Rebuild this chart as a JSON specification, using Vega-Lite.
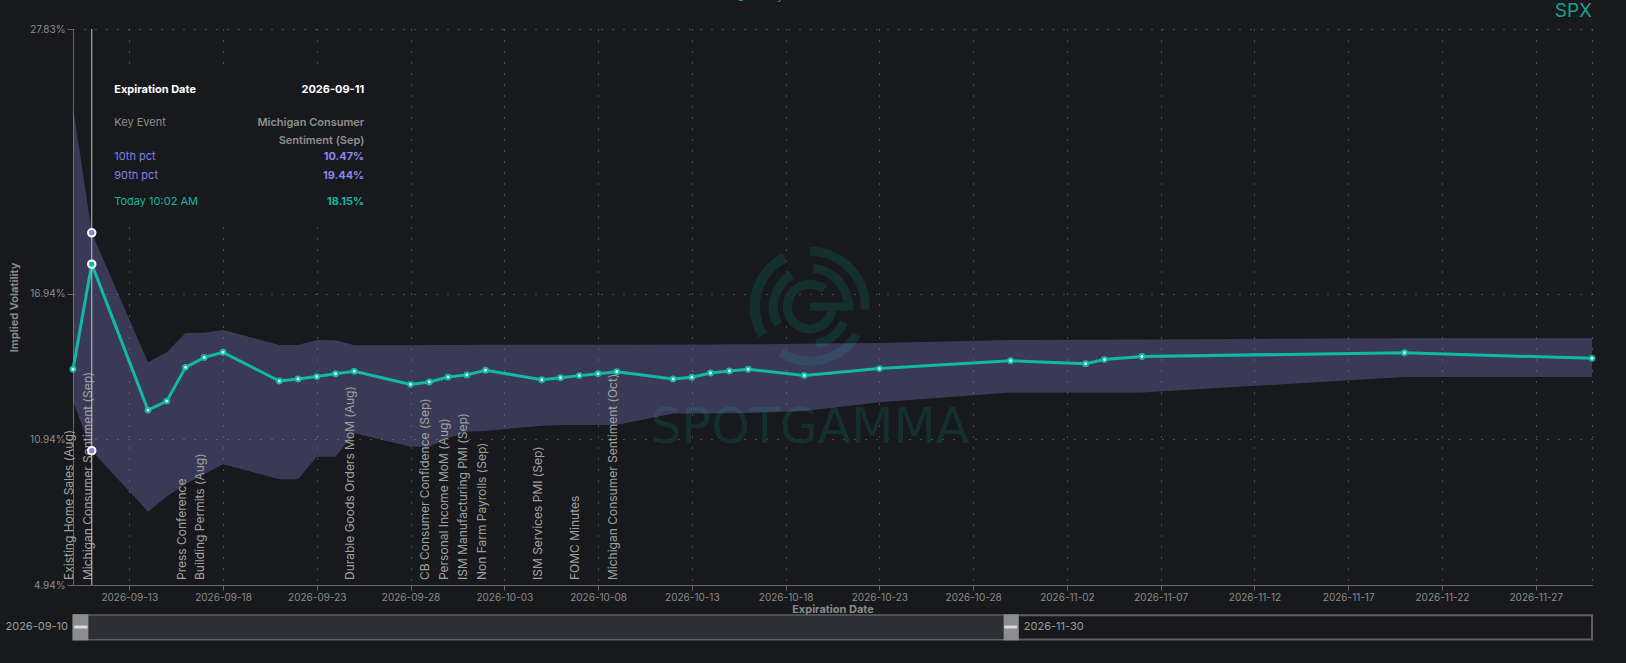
{
  "$schema": "https://vega.github.io/schema/vega-lite/v6.json",
  "width": 1519,
  "height": 556,
  "autosize": {"type": "none"},
  "padding": {"left": 73, "top": 29, "right": 34, "bottom": 78},
  "background": "#18191d",
  "title": {"text": "SPX", "anchor": "end", "frame": "group", "fontSize": 19, "fontWeight": "normal", "font": "Inter", "color": "#15a190", "offset": -30},
  "config": {"view": {"stroke": null}, "font": "Inter"},
  "datasets": {
    "iv": [
      {"date": "2026-09-10", "today": 13.82, "p10": 12.49, "p90": 24.63, "event": "Existing Home Sales (Aug)"},
      {"date": "2026-09-11", "today": 18.15, "p10": 10.47, "p90": 19.44, "event": "Michigan Consumer Sentiment (Sep)"},
      {"date": "2026-09-14", "today": 12.14, "p10": 7.96, "p90": 14.11},
      {"date": "2026-09-15", "today": 12.51, "p10": 8.58, "p90": 14.52},
      {"date": "2026-09-16", "today": 13.90, "p10": 9.10, "p90": 15.31, "event": "Press Conference"},
      {"date": "2026-09-17", "today": 14.31, "p10": 9.50, "p90": 15.33, "event": "Building Permits (Aug)"},
      {"date": "2026-09-18", "today": 14.52, "p10": 9.91, "p90": 15.44},
      {"date": "2026-09-21", "today": 13.34, "p10": 9.29, "p90": 14.82},
      {"date": "2026-09-22", "today": 13.42, "p10": 9.29, "p90": 14.82},
      {"date": "2026-09-23", "today": 13.52, "p10": 10.22, "p90": 15.03},
      {"date": "2026-09-24", "today": 13.64, "p10": 10.22, "p90": 15.02},
      {"date": "2026-09-25", "today": 13.74, "p10": 11.19, "p90": 14.81, "event": "Durable Goods Orders MoM (Aug)"},
      {"date": "2026-09-28", "today": 13.20, "p10": 10.63, "p90": 14.81},
      {"date": "2026-09-29", "today": 13.30, "p10": 10.63, "p90": 14.82, "event": "CB Consumer Confidence (Sep)"},
      {"date": "2026-09-30", "today": 13.50, "p10": 10.98, "p90": 14.82, "event": "Personal Income MoM (Aug)"},
      {"date": "2026-10-01", "today": 13.59, "p10": 11.25, "p90": 14.82, "event": "ISM Manufacturing PMI (Sep)"},
      {"date": "2026-10-02", "today": 13.78, "p10": 11.28, "p90": 14.83, "event": "Non Farm Payrolls (Sep)"},
      {"date": "2026-10-05", "today": 13.39, "p10": 11.50, "p90": 14.83, "event": "ISM Services PMI (Sep)"},
      {"date": "2026-10-06", "today": 13.47, "p10": 11.53, "p90": 14.83},
      {"date": "2026-10-07", "today": 13.56, "p10": 11.53, "p90": 14.83, "event": "FOMC Minutes"},
      {"date": "2026-10-08", "today": 13.64, "p10": 11.53, "p90": 14.83},
      {"date": "2026-10-09", "today": 13.72, "p10": 11.53, "p90": 14.83, "event": "Michigan Consumer Sentiment (Oct)"},
      {"date": "2026-10-12", "today": 13.42, "p10": 12.00, "p90": 14.84},
      {"date": "2026-10-13", "today": 13.49, "p10": 12.00, "p90": 14.84},
      {"date": "2026-10-14", "today": 13.67, "p10": 12.00, "p90": 14.84},
      {"date": "2026-10-15", "today": 13.75, "p10": 12.01, "p90": 14.85},
      {"date": "2026-10-16", "today": 13.82, "p10": 12.02, "p90": 14.85},
      {"date": "2026-10-19", "today": 13.57, "p10": 12.10, "p90": 14.87},
      {"date": "2026-10-23", "today": 13.85, "p10": 12.46, "p90": 14.90},
      {"date": "2026-10-30", "today": 14.17, "p10": 12.86, "p90": 15.03},
      {"date": "2026-11-03", "today": 14.05, "p10": 12.86, "p90": 15.04},
      {"date": "2026-11-04", "today": 14.22, "p10": 12.86, "p90": 15.04},
      {"date": "2026-11-06", "today": 14.35, "p10": 12.87, "p90": 15.05},
      {"date": "2026-11-20", "today": 14.50, "p10": 13.50, "p90": 15.10},
      {"date": "2026-11-30", "today": 14.27, "p10": 13.50, "p90": 15.10}
    ],
    "tip": [
      {"row": "date", "label": "Expiration Date", "value": "2026-09-11"},
      {"row": "event", "label": "Key Event", "value": "Michigan Consumer\nSentiment (Sep)"},
      {"row": "p10", "label": "10th pct", "value": "10.47%"},
      {"row": "p90", "label": "90th pct", "value": "19.44%"},
      {"row": "today", "label": "Today 10:02 AM", "value": "18.15%"}
    ]
  },
  "data": {"name": "iv"},
  "layer": [
    {
      "data": {"values": [{"brand": "SPOTGAMMA"}]},
      "encoding": {
        "x": {"datum": {"year": 2026, "month": 10, "date": 19, "hours": 7, "utc": true}, "type": "temporal"},
        "y": {"datum": 16.4, "type": "quantitative"}
      },
      "layer": [
        {"mark": {"type": "arc", "theta": 0, "theta2": 1.62, "radius": 60, "radius2": 51, "fill": "#13302f"}},
        {"mark": {"type": "arc", "theta": 2.11, "theta2": 3.70, "radius": 59, "radius2": 50, "fill": "#13302f"}},
        {"mark": {"type": "arc", "theta": 4.17, "theta2": 5.81, "radius": 60, "radius2": 50, "fill": "#13302f"}},
        {"mark": {"type": "arc", "theta": 0.09, "theta2": 1.57, "radius": 43, "radius2": 34, "fill": "#13302f"}},
        {"mark": {"type": "arc", "theta": 4.19, "theta2": 5.76, "radius": 41, "radius2": 32, "fill": "#13302f"}},
        {"mark": {"type": "arc", "theta": 2.0, "theta2": 2.97, "radius": 42, "radius2": 33, "fill": "#13302f"}},
        {"mark": {"type": "arc", "theta": 1.75, "theta2": 6.98, "radius": 27, "radius2": 18, "fill": "#13302f"}},
        {
          "mark": {"type": "rule", "strokeWidth": 8, "color": "#13302f"},
          "encoding": {"x2": {"datum": {"year": 2026, "month": 10, "date": 21, "hours": 14, "minutes": 40, "utc": true}}}
        },
        {
          "mark": {"type": "text", "font": "DejaVu Sans", "fontSize": 49, "color": "#13302f", "align": "center", "baseline": "alphabetic", "dy": 136},
          "encoding": {"text": {"field": "brand"}}
        }
      ]
    },
    {
      "mark": {"type": "area", "color": "#8884d8", "fillOpacity": 0.31},
      "encoding": {
        "x": {
          "field": "date", "type": "temporal",
          "scale": {"type": "utc", "domain": [{"year": 2026, "month": 9, "date": 10, "utc": true}, {"year": 2026, "month": 11, "date": 30, "utc": true}], "nice": false},
          "axis": {
            "title": "Expiration Date", "titleColor": "#8a8a8a", "titleFontSize": 11, "titleFontWeight": "bold", "titlePadding": 1,
            "tickCount": {"interval": "day", "step": 1},
            "labelExpr": "round((time(datum.value) - utc(2026,8,13))/86400000) % 5 === 0 ? utcFormat(datum.value, '%Y-%m-%d') : ''",
            "labelFontSize": 10, "labelColor": "#8a8a8a", "labelPadding": 2, "labelOverlap": false, "labelFlush": false,
            "tickSize": 5,
            "tickOpacity": {"condition": {"test": "round((time(datum.value) - utc(2026,8,13))/86400000) % 5 === 0", "value": 1}, "value": 0},
            "tickColor": "#666666", "domainColor": "#666666",
            "grid": true, "gridColor": "#7a7a7a", "gridDash": [1, 10], "gridWidth": 1,
            "gridOpacity": {"condition": {"test": "round((time(datum.value) - utc(2026,8,13))/86400000) % 5 === 0 || time(datum.value) === utc(2026,10,30) || time(datum.value) === utc(2026,8,10)", "value": 1}, "value": 0}
          }
        },
        "y": {
          "field": "p90", "type": "quantitative",
          "scale": {"domain": [4.94, 27.83], "nice": false, "zero": false},
          "axis": {
            "values": [4.94, 10.94, 16.94, 27.83],
            "labelExpr": "format(datum.value, '.2f') + '%'",
            "title": "Implied Volatility", "titleColor": "#8a8a8a", "titleFontSize": 11, "titleFontWeight": "bold", "titlePadding": 10,
            "labelFontSize": 10, "labelColor": "#8a8a8a", "labelPadding": 2, "labelOverlap": false,
            "tickSize": 6, "tickColor": "#666666", "domainColor": "#666666",
            "grid": true, "gridColor": "#7a7a7a", "gridDash": [1, 10], "gridWidth": 1
          }
        },
        "y2": {"field": "p10"}
      }
    },
    {
      "transform": [{"filter": "datum.event === 'Michigan Consumer Sentiment (Sep)'"}],
      "mark": {"type": "rect", "fill": "#18191d", "xOffset": 8, "x2Offset": 287, "yOffset": 37, "y2Offset": 197},
      "encoding": {
        "x": {"field": "date", "type": "temporal"},
        "x2": {"field": "date"},
        "y": {"datum": 27.83, "type": "quantitative"},
        "y2": {"datum": 27.83}
      }
    },
    {
      "mark": {"type": "line", "strokeWidth": 3},
      "encoding": {
        "x": {"field": "date", "type": "temporal"},
        "y": {"field": "today", "type": "quantitative"},
        "color": {
          "datum": "Today 10:02 AM", "type": "nominal",
          "scale": {"range": ["#10b9a6"]},
          "legend": {"orient": "none", "legendX": 662, "legendY": -38, "title": null, "direction": "horizontal", "labelColor": "#15a592", "labelFontSize": 11.5, "labelFont": "Inter", "symbolType": "circle", "symbolSize": 40, "symbolStrokeWidth": 2, "symbolFillColor": "#10b9a6"}
        }
      }
    },
    {
      "mark": {"type": "circle", "fill": "#ffffff", "stroke": "#10b9a6", "strokeWidth": 2, "size": 24, "opacity": 1},
      "encoding": {
        "x": {"field": "date", "type": "temporal"},
        "y": {"field": "today", "type": "quantitative"}
      }
    },
    {
      "transform": [{"filter": "isValid(datum.event)"}],
      "mark": {"type": "text", "angle": 270, "align": "left", "baseline": "alphabetic", "dx": 5, "fontSize": 12, "color": "#a0a0a0"},
      "encoding": {
        "x": {"field": "date", "type": "temporal"},
        "y": {"datum": 4.94, "type": "quantitative"},
        "text": {"field": "event"}
      }
    },
    {
      "transform": [{"filter": "datum.event === 'Michigan Consumer Sentiment (Sep)'"}],
      "encoding": {"x": {"field": "date", "type": "temporal"}},
      "layer": [
        {
          "mark": {"type": "rule", "color": "#c4c4c4", "strokeWidth": 1},
          "encoding": {"y": {"datum": 27.83, "type": "quantitative"}, "y2": {"datum": 4.94}}
        },
        {
          "mark": {"type": "circle", "fill": "#8884d8", "stroke": "#ffffff", "strokeWidth": 2, "size": 56, "opacity": 1},
          "encoding": {"y": {"field": "p90", "type": "quantitative"}}
        },
        {
          "mark": {"type": "circle", "fill": "#10b9a6", "stroke": "#ffffff", "strokeWidth": 2, "size": 56, "opacity": 1},
          "encoding": {"y": {"field": "today", "type": "quantitative"}}
        },
        {
          "mark": {"type": "circle", "fill": "#8884d8", "stroke": "#ffffff", "strokeWidth": 2, "size": 56, "opacity": 1},
          "encoding": {"y": {"field": "p10", "type": "quantitative"}}
        }
      ]
    },
    {
      "data": {"name": "tip"},
      "encoding": {
        "x": {"datum": {"year": 2026, "month": 9, "date": 11, "utc": true}, "type": "temporal"},
        "y": {"datum": 27.83, "type": "quantitative"},
        "text": {"field": "label"}
      },
      "layer": [
        {"transform": [{"filter": "datum.row === 'date'"}], "mark": {"type": "text", "align": "left", "baseline": "middle", "dx": 22.5, "dy": 61, "fontSize": 11, "fontWeight": "bold", "color": "#ffffff"}},
        {"transform": [{"filter": "datum.row === 'date'"}], "mark": {"type": "text", "align": "right", "baseline": "middle", "dx": 272.5, "dy": 61, "fontSize": 11, "fontWeight": "bold", "color": "#ffffff"}, "encoding": {"text": {"field": "value"}}},
        {"transform": [{"filter": "datum.row === 'event'"}], "mark": {"type": "text", "align": "left", "baseline": "middle", "dx": 22.5, "dy": 94, "fontSize": 11, "color": "#8c8c8c"}},
        {"transform": [{"filter": "datum.row === 'event'"}], "mark": {"type": "text", "align": "right", "baseline": "middle", "dx": 272.5, "dy": 94, "fontSize": 11, "fontWeight": 600, "color": "#8f8f8f", "lineBreak": "\n", "lineHeight": 18}, "encoding": {"text": {"field": "value"}}},
        {"transform": [{"filter": "datum.row === 'p10'"}], "mark": {"type": "text", "align": "left", "baseline": "middle", "dx": 22.5, "dy": 128, "fontSize": 11, "color": "#817fe6"}},
        {"transform": [{"filter": "datum.row === 'p10'"}], "mark": {"type": "text", "align": "right", "baseline": "middle", "dx": 272.5, "dy": 128, "fontSize": 11, "fontWeight": "bold", "color": "#8986ea"}, "encoding": {"text": {"field": "value"}}},
        {"transform": [{"filter": "datum.row === 'p90'"}], "mark": {"type": "text", "align": "left", "baseline": "middle", "dx": 22.5, "dy": 147, "fontSize": 11, "color": "#817fe6"}},
        {"transform": [{"filter": "datum.row === 'p90'"}], "mark": {"type": "text", "align": "right", "baseline": "middle", "dx": 272.5, "dy": 147, "fontSize": 11, "fontWeight": "bold", "color": "#8986ea"}, "encoding": {"text": {"field": "value"}}},
        {"transform": [{"filter": "datum.row === 'today'"}], "mark": {"type": "text", "align": "left", "baseline": "middle", "dx": 22.5, "dy": 173, "fontSize": 11, "color": "#12b5a2"}},
        {"transform": [{"filter": "datum.row === 'today'"}], "mark": {"type": "text", "align": "right", "baseline": "middle", "dx": 272.5, "dy": 173, "fontSize": 11, "fontWeight": "bold", "color": "#12b5a2"}, "encoding": {"text": {"field": "value"}}}
      ]
    },
    {
      "data": {"values": [{"from": "2026-09-10", "to": "2026-11-30"}]},
      "layer": [
        {
          "mark": {"type": "rect", "fill": "#18191d", "stroke": "#5e5e5e", "strokeWidth": 2},
          "encoding": {
            "x": {"field": "from", "type": "temporal"}, "x2": {"field": "to"},
            "y": {"datum": 3.69, "type": "quantitative"}, "y2": {"datum": 2.70}
          }
        },
        {
          "mark": {"type": "rect", "fill": "#2e2f34"},
          "encoding": {
            "x": {"field": "from", "type": "temporal"},
            "x2": {"datum": {"year": 2026, "month": 10, "date": 30, "hours": 0, "minutes": 45, "utc": true}},
            "y": {"datum": 3.676, "type": "quantitative"}, "y2": {"datum": 2.717}
          }
        },
        {
          "mark": {"type": "rect", "fill": "#8c8d8f"},
          "encoding": {
            "x": {"field": "from", "type": "temporal"},
            "x2": {"datum": {"year": 2026, "month": 9, "date": 10, "hours": 19, "minutes": 40, "utc": true}},
            "y": {"datum": 3.734, "type": "quantitative"}, "y2": {"datum": 2.663}
          }
        },
        {
          "mark": {"type": "rect", "fill": "#8c8d8f"},
          "encoding": {
            "x": {"datum": {"year": 2026, "month": 10, "date": 29, "hours": 15, "utc": true}, "type": "temporal"},
            "x2": {"datum": {"year": 2026, "month": 10, "date": 30, "hours": 10, "minutes": 30, "utc": true}},
            "y": {"datum": 3.734, "type": "quantitative"}, "y2": {"datum": 2.663}
          }
        },
        {
          "mark": {"type": "rect", "fill": "#dcdcdc"},
          "encoding": {
            "x": {"datum": {"year": 2026, "month": 9, "date": 10, "hours": 1, "minutes": 40, "utc": true}, "type": "temporal"},
            "x2": {"datum": {"year": 2026, "month": 9, "date": 10, "hours": 18, "minutes": 40, "utc": true}},
            "y": {"datum": 3.27, "type": "quantitative"}, "y2": {"datum": 3.15}
          }
        },
        {
          "mark": {"type": "rect", "fill": "#dcdcdc"},
          "encoding": {
            "x": {"datum": {"year": 2026, "month": 10, "date": 29, "hours": 15, "minutes": 50, "utc": true}, "type": "temporal"},
            "x2": {"datum": {"year": 2026, "month": 10, "date": 30, "hours": 8, "minutes": 10, "utc": true}},
            "y": {"datum": 3.27, "type": "quantitative"}, "y2": {"datum": 3.15}
          }
        },
        {
          "mark": {"type": "text", "align": "right", "baseline": "middle", "dx": -5, "fontSize": 11, "color": "#9a9a9a"},
          "encoding": {
            "x": {"field": "from", "type": "temporal"},
            "y": {"datum": 3.223, "type": "quantitative"},
            "text": {"field": "from", "timeUnit": "utcyearmonthdate", "type": "temporal", "format": "%Y-%m-%d"}
          }
        },
        {
          "mark": {"type": "text", "align": "left", "baseline": "middle", "dx": 5, "fontSize": 11, "color": "#9a9a9a"},
          "encoding": {
            "x": {"datum": {"year": 2026, "month": 10, "date": 30, "hours": 10, "minutes": 30, "utc": true}, "type": "temporal"},
            "y": {"datum": 3.223, "type": "quantitative"},
            "text": {"field": "to", "timeUnit": "utcyearmonthdate", "type": "temporal", "format": "%Y-%m-%d"}
          }
        }
      ]
    }
  ]
}
